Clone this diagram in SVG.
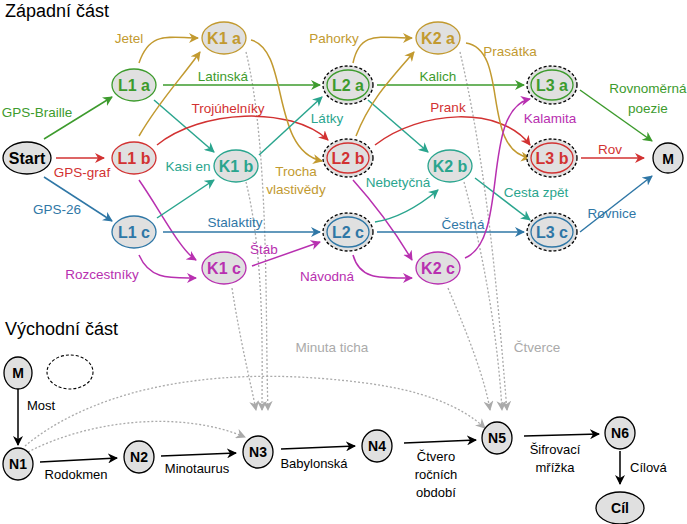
<svg xmlns="http://www.w3.org/2000/svg" width="687" height="524" viewBox="0 0 687 524">
<style>
text{font-family:"Liberation Sans",Arial,sans-serif;font-size:13.5px;text-anchor:middle}
.n ellipse,.n circle{fill:#e0e0e0;stroke-width:1.3}
.n text{font-weight:bold;font-size:16px}
.d{fill:none;stroke:#000;stroke-dasharray:3,2;stroke-width:1.1}
.e{fill:none;stroke-width:1.5}
.g{stroke:#3d9b2d}.r{stroke:#d23232}.b{stroke:#2f77a6}.y{stroke:#c29a30}.t{stroke:#2aa58e}.m{stroke:#b830b0}.k{stroke:#000}
.gt{fill:#3d9b2d}.rt{fill:#d23232}.bt{fill:#2f77a6}.yt{fill:#c29a30}.tt{fill:#2aa58e}.mt{fill:#b830b0}
.dot{fill:none;stroke:#aaa;stroke-width:1.3;stroke-dasharray:2,2}
.lo{font-family:"Liberation Sans Narrow","Liberation Sans",sans-serif;font-size:13px}
</style>
<defs>
<marker id="ag" viewBox="0 0 10 10" refX="9" refY="5" markerWidth="10" markerHeight="10" markerUnits="userSpaceOnUse" orient="auto"><path d="M0,0L10,5L0,10L3,5z" fill="#3d9b2d"/></marker>
<marker id="ar" viewBox="0 0 10 10" refX="9" refY="5" markerWidth="10" markerHeight="10" markerUnits="userSpaceOnUse" orient="auto"><path d="M0,0L10,5L0,10L3,5z" fill="#d23232"/></marker>
<marker id="ab" viewBox="0 0 10 10" refX="9" refY="5" markerWidth="10" markerHeight="10" markerUnits="userSpaceOnUse" orient="auto"><path d="M0,0L10,5L0,10L3,5z" fill="#2f77a6"/></marker>
<marker id="ay" viewBox="0 0 10 10" refX="9" refY="5" markerWidth="10" markerHeight="10" markerUnits="userSpaceOnUse" orient="auto"><path d="M0,0L10,5L0,10L3,5z" fill="#c29a30"/></marker>
<marker id="at" viewBox="0 0 10 10" refX="9" refY="5" markerWidth="10" markerHeight="10" markerUnits="userSpaceOnUse" orient="auto"><path d="M0,0L10,5L0,10L3,5z" fill="#2aa58e"/></marker>
<marker id="am" viewBox="0 0 10 10" refX="9" refY="5" markerWidth="10" markerHeight="10" markerUnits="userSpaceOnUse" orient="auto"><path d="M0,0L10,5L0,10L3,5z" fill="#b830b0"/></marker>
<marker id="ak" viewBox="0 0 10 10" refX="9" refY="5" markerWidth="10" markerHeight="10" markerUnits="userSpaceOnUse" orient="auto"><path d="M0,0L10,5L0,10L3,5z" fill="#000"/></marker>
<marker id="aa" viewBox="0 0 10 10" refX="9" refY="5" markerWidth="10" markerHeight="10" markerUnits="userSpaceOnUse" orient="auto"><path d="M0,0L10,5L0,10L3,5z" fill="#aaa"/></marker>
</defs>
<rect width="687" height="524" fill="#fff"/>
<text x="5" y="17" style="font-size:18px;text-anchor:start">Západní část</text>
<text x="5" y="335" style="font-size:18px;text-anchor:start">Východní část</text>

<g id="connectors">
<path class="dot" d="M246,52 C270,150 265,330 268,410" marker-end="url(#aa)"/>
<path class="dot" d="M246,182 C265,260 262,360 262,410" marker-end="url(#aa)"/>
<path class="dot" d="M232,288 C240,340 250,380 256,410" marker-end="url(#aa)"/>
<path class="dot" d="M460,52 C490,180 500,330 507,410" marker-end="url(#aa)"/>
<path class="dot" d="M464,182 C485,260 498,340 502,410" marker-end="url(#aa)"/>
<path class="dot" d="M448,288 C470,340 485,380 490,410" marker-end="url(#aa)"/>
<path class="dot" d="M25,446 C80,400 190,360 365,383 C420,390 460,405 485,428" marker-end="url(#aa)"/>
<path class="dot" d="M28,452 C90,420 180,410 245,437" marker-end="url(#aa)"/>
<text x="332" y="352" style="fill:#aaa">Minuta ticha</text>
<text x="537" y="352" style="fill:#aaa">Čtverce</text>

<path class="e g" d="M44,139 L112,97" marker-end="url(#ag)"/>
<text class="gt" x="37" y="117">GPS-Braille</text>
<path class="e r" d="M56,158 L104,158" marker-end="url(#ar)"/>
<text class="rt" x="82" y="177">GPS-graf</text>
<path class="e b" d="M44,177 L112,221" marker-end="url(#ab)"/>
<text class="bt" x="57" y="214">GPS-26</text>

<path class="e y" d="M139,63 C150,30 170,38 198,38" marker-end="url(#ay)"/>
<text class="yt" x="129" y="43">Jetel</text>
<path class="e g" d="M163,85 L320,85" marker-end="url(#ag)"/>
<text class="gt" x="223" y="81">Latinská</text>
<path class="e t" d="M154,100 L214,152" marker-end="url(#at)"/>
<path class="e y" d="M139,136 C160,100 180,80 200,52" marker-end="url(#ay)"/>
<path class="e r" d="M157,145 C200,110 290,105 328,140" marker-end="url(#ar)"/>
<text class="rt" x="228" y="113">Trojúhelníky</text>
<path class="e m" d="M139,180 C160,210 180,250 196,260" marker-end="url(#am)"/>
<path class="e t" d="M157,218 L214,180" marker-end="url(#at)"/>
<text class="tt" x="188" y="171">Kasi en</text>
<path class="e b" d="M163,232 L320,232" marker-end="url(#ab)"/>
<text class="bt" x="235" y="227">Stalaktity</text>
<path class="e m" d="M139,255 C150,280 170,278 196,278" marker-end="url(#am)"/>
<text class="mt" x="102" y="279">Rozcestníky</text>

<path class="e y" d="M251,40 C290,50 270,150 322,161" marker-end="url(#ay)"/>
<text class="yt" x="296" y="176">Trocha</text>
<text class="yt" x="296" y="194">vlastivědy</text>
<path class="e t" d="M259,155 L322,97" marker-end="url(#at)"/>
<text class="tt" x="327" y="123">Látky</text>
<path class="e m" d="M252,266 L320,242" marker-end="url(#am)"/>
<text class="mt" x="264" y="254">Štáb</text>

<path class="e y" d="M353,63 C360,30 380,38 412,38" marker-end="url(#ay)"/>
<text class="yt" x="334" y="43">Pahorky</text>
<path class="e g" d="M377,85 L524,85" marker-end="url(#ag)"/>
<text class="gt" x="438" y="81">Kalich</text>
<path class="e t" d="M368,100 L428,152" marker-end="url(#at)"/>
<path class="e y" d="M356,136 C370,100 390,80 414,52" marker-end="url(#ay)"/>
<path class="e r" d="M375,145 C420,110 500,105 530,145" marker-end="url(#ar)"/>
<text class="rt" x="448" y="112">Prank</text>
<path class="e m" d="M353,180 C380,210 400,240 412,260" marker-end="url(#am)"/>
<path class="e t" d="M375,222 C400,218 420,205 438,190" marker-end="url(#at)"/>
<text class="tt" x="398" y="187">Nebetyčná</text>
<path class="e b" d="M377,232 L524,232" marker-end="url(#ab)"/>
<text class="bt" x="463" y="229">Čestná</text>
<path class="e m" d="M353,255 C360,280 380,278 412,278" marker-end="url(#am)"/>
<text class="mt" x="327" y="281">Návodná</text>

<path class="e y" d="M466,43 C510,50 480,150 530,158" marker-end="url(#ay)"/>
<text class="yt" x="510" y="56">Prasátka</text>
<path class="e t" d="M475,178 L530,220" marker-end="url(#at)"/>
<text class="tt" x="536" y="197">Cesta zpět</text>
<path class="e m" d="M465,258 C510,240 480,110 530,99" marker-end="url(#am)"/>
<text class="mt" x="550" y="123">Kalamita</text>

<path class="e g" d="M580,90 L652,141" marker-end="url(#ag)"/>
<text class="gt" x="648" y="93">Rovnoměrná</text>
<text class="gt" x="648" y="113">poezie</text>
<path class="e r" d="M581,158 L644,158" marker-end="url(#ar)"/>
<text class="rt" x="610" y="154">Rov</text>
<path class="e b" d="M580,232 L652,176" marker-end="url(#ab)"/>
<text class="bt" x="612" y="218">Rovnice</text>

<path class="e k" stroke-width="1.2" d="M18,389 L18,445" marker-end="url(#ak)"/>
<text class="lo" x="27" y="410" style="text-anchor:start">Most</text>
<path class="e k" d="M40,462 L117,458" marker-end="url(#ak)"/>
<text class="lo" x="76" y="479">Rodokmen</text>
<path class="e k" d="M161,456 L236,453" marker-end="url(#ak)"/>
<text class="lo" x="197" y="473">Minotaurus</text>
<path class="e k" d="M281,449 L355,446" marker-end="url(#ak)"/>
<text class="lo" x="314" y="468">Babylonská</text>
<path class="e k" d="M404,443 L476,440" marker-end="url(#ak)"/>
<text class="lo" x="436" y="461">Čtvero</text>
<text class="lo" x="436" y="479">ročních</text>
<text class="lo" x="436" y="497">období</text>
<path class="e k" d="M524,436 L599,434" marker-end="url(#ak)"/>
<text class="lo" x="555" y="454">Šifrovací</text>
<text class="lo" x="555" y="472">mřížka</text>
<path class="e k" stroke-width="1.2" d="M620,451 L620,484" marker-end="url(#ak)"/>
<text class="lo" x="630" y="472" style="text-anchor:start">Cílová</text>
</g>

<g id="Start" class="n"><ellipse cx="27" cy="158" rx="24" ry="16" style="stroke:#000"/><text x="27" y="164">Start</text></g>
<g id="L1a" class="n"><ellipse cx="134" cy="85" rx="22" ry="16" class="g"/><text class="gt" x="134" y="91">L1 a</text></g>
<g id="L1b" class="n"><ellipse cx="134" cy="158" rx="22" ry="16" class="r"/><text class="rt" x="134" y="164">L1 b</text></g>
<g id="L1c" class="n"><ellipse cx="134" cy="232" rx="22" ry="16" class="b"/><text class="bt" x="134" y="238">L1 c</text></g>
<g id="K1a" class="n"><ellipse cx="224" cy="38" rx="22" ry="16" class="y"/><text class="yt" x="224" y="44">K1 a</text></g>
<g id="K1b" class="n"><ellipse cx="236" cy="166" rx="22" ry="16" class="t"/><text class="tt" x="236" y="172">K1 b</text></g>
<g id="K1c" class="n"><ellipse cx="224" cy="268" rx="22" ry="16" class="m"/><text class="mt" x="224" y="274">K1 c</text></g>
<g id="L2a" class="n"><ellipse class="d" cx="348" cy="85" rx="25" ry="19"/><ellipse cx="348" cy="85" rx="21" ry="15" class="g"/><text class="gt" x="348" y="91">L2 a</text></g>
<g id="L2b" class="n"><ellipse class="d" cx="348" cy="158" rx="25" ry="19"/><ellipse cx="348" cy="158" rx="21" ry="15" class="r"/><text class="rt" x="348" y="164">L2 b</text></g>
<g id="L2c" class="n"><ellipse class="d" cx="348" cy="232" rx="25" ry="19"/><ellipse cx="348" cy="232" rx="21" ry="15" class="b"/><text class="bt" x="348" y="238">L2 c</text></g>
<g id="K2a" class="n"><ellipse cx="438" cy="38" rx="22" ry="16" class="y"/><text class="yt" x="438" y="44">K2 a</text></g>
<g id="K2b" class="n"><ellipse cx="450" cy="166" rx="22" ry="16" class="t"/><text class="tt" x="450" y="172">K2 b</text></g>
<g id="K2c" class="n"><ellipse cx="438" cy="268" rx="22" ry="16" class="m"/><text class="mt" x="438" y="274">K2 c</text></g>
<g id="L3a" class="n"><ellipse class="d" cx="552" cy="85" rx="25" ry="19"/><ellipse cx="552" cy="85" rx="21" ry="15" class="g"/><text class="gt" x="552" y="91">L3 a</text></g>
<g id="L3b" class="n"><ellipse class="d" cx="552" cy="158" rx="25" ry="19"/><ellipse cx="552" cy="158" rx="21" ry="15" class="r"/><text class="rt" x="552" y="164">L3 b</text></g>
<g id="L3c" class="n"><ellipse class="d" cx="552" cy="232" rx="25" ry="19"/><ellipse cx="552" cy="232" rx="21" ry="15" class="b"/><text class="bt" x="552" y="238">L3 c</text></g>
<g id="M" class="n"><circle cx="668" cy="158" r="15" style="stroke:#000"/><text x="668" y="164" style="font-size:14px">M</text></g>

<g id="M2" class="n"><ellipse cx="18" cy="373" rx="14" ry="16" style="stroke:#000"/><text class="lo" x="18" y="378" style="font-weight:bold;font-size:14px">M</text></g>
<g id="empty"><ellipse class="d" cx="70" cy="372" rx="23" ry="17"/></g>
<g id="N1" class="n"><ellipse cx="18" cy="464" rx="15" ry="16" style="stroke:#000"/><text class="lo" x="18" y="469" style="font-size:14px">N1</text></g>
<g id="N2" class="n"><ellipse cx="139" cy="457" rx="15" ry="16" style="stroke:#000"/><text class="lo" x="139" y="462" style="font-size:14px">N2</text></g>
<g id="N3" class="n"><ellipse cx="258" cy="452" rx="15" ry="16" style="stroke:#000"/><text class="lo" x="258" y="457" style="font-size:14px">N3</text></g>
<g id="N4" class="n"><ellipse cx="377" cy="446" rx="15" ry="16" style="stroke:#000"/><text class="lo" x="377" y="451" style="font-size:14px">N4</text></g>
<g id="N5" class="n"><ellipse cx="497" cy="438" rx="15" ry="16" style="stroke:#000"/><text class="lo" x="497" y="443" style="font-size:14px">N5</text></g>
<g id="N6" class="n"><ellipse cx="620" cy="433" rx="15" ry="16" style="stroke:#000"/><text class="lo" x="620" y="438" style="font-size:14px">N6</text></g>
<g id="Cil" class="n"><ellipse cx="620" cy="508" rx="24" ry="16" style="stroke:#000"/><text class="lo" x="620" y="513" style="font-size:14px">Cíl</text></g>
</svg>
